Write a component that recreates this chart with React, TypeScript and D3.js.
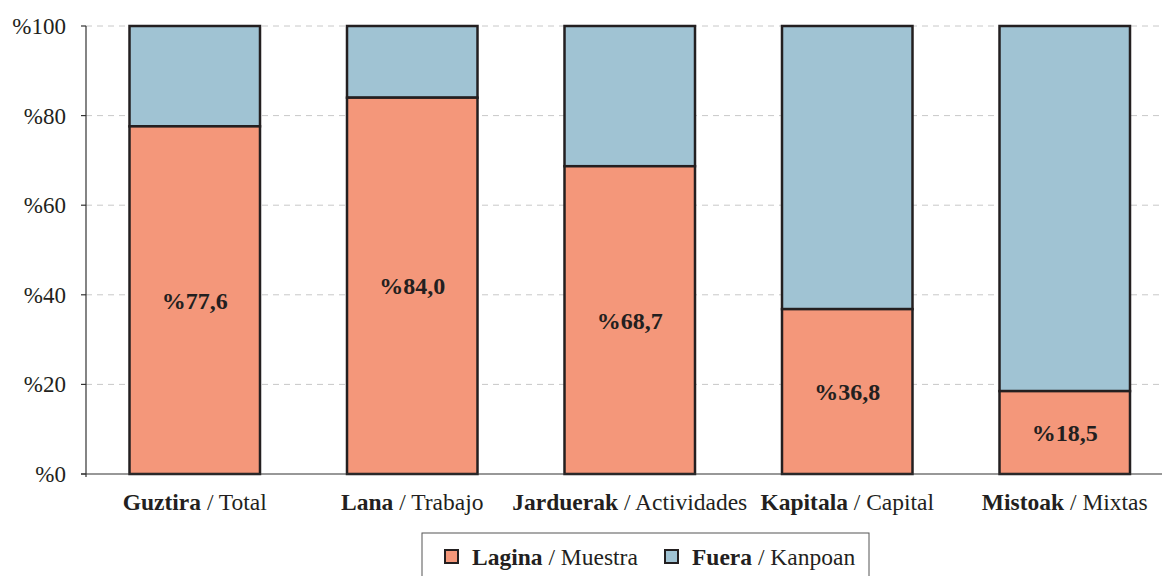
import React from "react";
import * as d3 from "d3";

const categoriesBold = ["Guztira", "Lana", "Jarduerak", "Kapitala", "Mistoak"];
const categoriesPlain = ["Total", "Trabajo", "Actividades", "Capital", "Mixtas"];
const laginaValues = [77.6, 84.0, 68.7, 36.8, 18.5];
const yTicks = [0, 20, 40, 60, 80, 100];
const legendBold = ["Lagina", "Fuera"];
const legendPlain = ["Muestra", "Kanpoan"];

const W = 1162;
const H = 576;
const left = 86;
const top = 26;
const bottom = 474;
const ORANGE = "#F4977A";
const BLUE = "#A0C3D3";
const STROKE = "#231F20";
const FONT = "'Liberation Serif', 'Times New Roman', serif";

export default function App() {
  const x = d3
    .scaleBand<number>()
    .domain(d3.range(categoriesBold.length))
    .range([left, 1173.5])
    .paddingInner(0.4)
    .paddingOuter(0.2);
  const y = d3.scaleLinear().domain([0, 100]).range([bottom, top]);
  const fmt = (v: number) => v.toFixed(1).replace(".", ",");

  return (
    <svg
      width={W}
      height={H}
      style={{ position: "absolute", left: 0, top: 0, fontFamily: FONT }}
    >
      {yTicks.slice(1).map((t) => (
        <line
          key={"g" + t}
          x1={left}
          x2={1162}
          y1={y(t)}
          y2={y(t)}
          stroke="#C8C8C8"
          strokeWidth={1}
          strokeDasharray="6 5"
        />
      ))}
      {laginaValues.map((v, i) => {
        const bx = x(i)!;
        const bw = x.bandwidth();
        return (
          <g key={"b" + i}>
            <rect
              x={bx}
              y={y(100)}
              width={bw}
              height={y(v) - y(100)}
              fill={BLUE}
              stroke={STROKE}
              strokeWidth={2.5}
            />
            <rect
              x={bx}
              y={y(v)}
              width={bw}
              height={y(0) - y(v)}
              fill={ORANGE}
              stroke={STROKE}
              strokeWidth={2.5}
            />
            <text
              x={bx + bw / 2}
              y={(y(v) + y(0)) / 2}
              dy="0.35em"
              textAnchor="middle"
              fontWeight="bold"
              fontSize={24}
              fill={STROKE}
            >
              %{fmt(v)}
            </text>
            <text
              x={bx + bw / 2}
              y={502}
              dy="0.35em"
              textAnchor="middle"
              fontSize={23.5}
              fill={STROKE}
            >
              <tspan fontWeight="bold">{categoriesBold[i]}</tspan>
              <tspan> / {categoriesPlain[i]}</tspan>
            </text>
          </g>
        );
      })}
      <line x1={left} x2={left} y1={top} y2={bottom + 3} stroke="#333" strokeWidth={1.2} />
      <line x1={left - 5} x2={1162} y1={bottom} y2={bottom} stroke="#333" strokeWidth={1.2} />
      {yTicks.map((t) => (
        <g key={"t" + t}>
          <line x1={left - 5} x2={left} y1={y(t)} y2={y(t)} stroke="#333" strokeWidth={1.2} />
          <text
            x={66}
            y={y(t)}
            dy="0.35em"
            textAnchor="end"
            fontSize={23}
            fill="#231F20"
          >
            %{t}
          </text>
        </g>
      ))}
      <rect x={422} y={533} width={447} height={50} fill="#fff" stroke="#555" strokeWidth={1} />
      {legendBold.map((lb, i) => {
        const lx = i === 0 ? 445 : 665;
        return (
          <g key={"l" + i}>
            <rect
              x={lx}
              y={550}
              width={13}
              height={13}
              fill={i === 0 ? ORANGE : BLUE}
              stroke={STROKE}
              strokeWidth={2}
            />
            <text x={lx + 27} y={557} dy="0.35em" fontSize={23.5} fill={STROKE}>
              <tspan fontWeight="bold">{lb}</tspan>
              <tspan> / {legendPlain[i]}</tspan>
            </text>
          </g>
        );
      })}
    </svg>
  );
}
